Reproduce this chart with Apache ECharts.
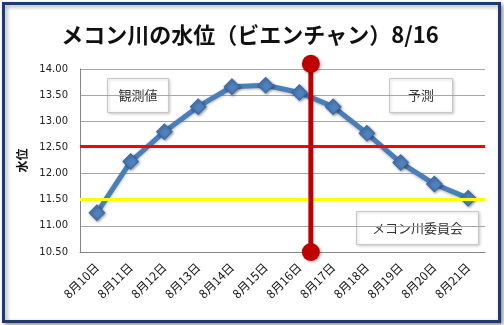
<!DOCTYPE html>
<html><head><meta charset="utf-8">
<script src="https://cdn.jsdelivr.net/npm/echarts@6/dist/echarts.min.js"></script>
<style>html,body{margin:0;padding:0;background:#fff;}#c{width:504px;height:325px;}</style>
</head><body><div id="c"></div>
<script>
const categories = ['8月10日','8月11日','8月12日','8月13日','8月14日','8月15日','8月16日','8月17日','8月18日','8月19日','8月20日','8月21日'];
const waterLevel = [11.25, 12.23, 12.80, 13.28, 13.66, 13.69, 13.55, 13.28, 12.77, 12.21, 11.80, 11.53];
const yTicks = [10.5, 14.0, 0.5];
const warningLevel = 12.53;
const cautionLevel = 11.5;
const dividerX = [6.84, 6.84];
const dividerY = [10.5, 14.1];
const titleText = 'メコン川の水位（ビエンチャン）8/16';
const yName = '水位';
const boxLabels = ['観測値', '予測', 'メコン川委員会'];

const chart = echarts.init(document.getElementById('c'), null, {renderer: 'canvas'});
const jp = '"Noto Sans CJK JP", sans-serif';
const box = (x, y, w, h, t) => ({
  type: 'group', left: x, top: y, z: 50,
  children: [
    {type: 'rect', shape: {x: 0, y: 0, width: w, height: h},
     style: {fill: '#fff', stroke: '#c8c8c8', lineWidth: 1, shadowBlur: 3, shadowColor: 'rgba(0,0,0,0.2)', shadowOffsetX: 1, shadowOffsetY: 1}},
    {type: 'text', x: w / 2, y: h / 2,
     style: {text: t, font: '13px ' + jp, fill: '#333', align: 'center', verticalAlign: 'middle'}}
  ]
});
chart.setOption({
  animation: false,
  backgroundColor: '#fff',
  title: {text: titleText, left: 245, top: 19, textAlign: 'center',
    textStyle: {fontFamily: jp, fontSize: 22, fontWeight: 'bold', color: '#111'}},
  grid: {left: 80, right: 19, top: 69, bottom: 73},
  xAxis: [{
    type: 'category', data: categories, boundaryGap: true,
    axisLine: {show: true, lineStyle: {color: '#868686'}},
    axisTick: {show: false},
    axisLabel: {rotate: 45, fontSize: 12, fontFamily: jp, color: '#111', margin: 13, interval: 0}
  }, {
    type: 'value', min: 0, max: 12, show: false
  }],
  yAxis: {
    type: 'value', min: yTicks[0], max: yTicks[1], interval: yTicks[2],
    name: yName, nameLocation: 'middle', nameGap: 48, nameRotate: 90,
    nameTextStyle: {fontFamily: jp, fontSize: 12, fontWeight: 'bold', color: '#111'},
    axisLine: {show: true, lineStyle: {color: '#868686'}},
    axisTick: {show: false},
    axisLabel: {formatter: v => v.toFixed(2), fontFamily: '"DejaVu Sans", sans-serif', fontSize: 10, color: '#222', margin: 12},
    splitLine: {show: true, lineStyle: {color: '#a6a6a6', width: 1}}
  },
  graphic: [
    {type: 'rect', left: 2, top: 2, z: -10, silent: true,
     shape: {width: 496, height: 318},
     style: {fill: '#fff', stroke: '#1f3a72', lineWidth: 3, shadowBlur: 4, shadowColor: 'rgba(0,0,0,0.35)', shadowOffsetX: 2, shadowOffsetY: 2}},
    box(107, 78, 61, 34, boxLabels[0]),
    box(389, 78, 63, 34, boxLabels[1]),
    box(356, 211, 122, 33, boxLabels[2])
  ],
  series: [
    {
      type: 'line', data: waterLevel, z: 3,
      lineStyle: {color: '#4a7ebb', width: 5, shadowBlur: 3, shadowColor: 'rgba(0,0,0,0.3)', shadowOffsetY: 1},
      symbol: 'rect', symbolSize: 11, symbolRotate: 45,
      itemStyle: {color: '#4f81bd', borderColor: '#3a6aa5', borderWidth: 1, shadowBlur: 3, shadowColor: 'rgba(0,0,0,0.4)', shadowOffsetX: 1, shadowOffsetY: 1},
      markLine: {
        silent: true, symbol: ['none', 'none'], label: {show: false}, z: 4,
        data: [
          {yAxis: warningLevel, lineStyle: {color: '#ff0000', width: 3, type: 'solid'}},
          {yAxis: cautionLevel, lineStyle: {color: '#ffff00', width: 3, type: 'solid'}}
        ]
      }
    },
    {
      type: 'line', xAxisIndex: 1, z: 5, clip: false,
      data: dividerX.map((x, i) => [x, dividerY[i]]),
      lineStyle: {color: '#c00000', width: 5},
      symbol: 'circle', symbolSize: 18,
      itemStyle: {color: '#c00000', shadowBlur: 3, shadowColor: 'rgba(0,0,0,0.35)', shadowOffsetX: 1, shadowOffsetY: 1}
    }
  ]
});
</script></body></html>
